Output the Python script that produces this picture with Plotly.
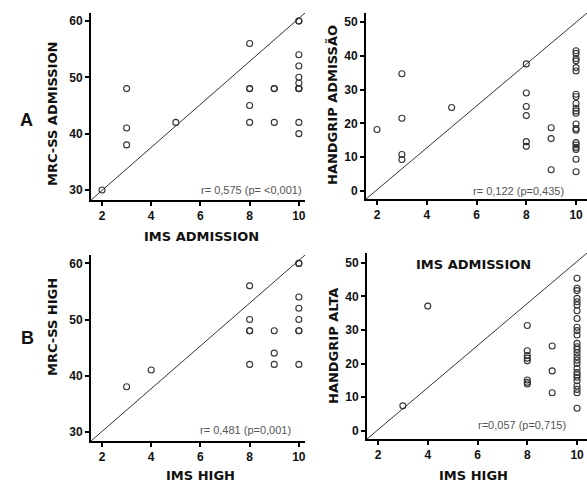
import plotly.graph_objects as go

W, H = 587, 483

# ---- data ----
ims_adm_a = [2, 3, 3, 3, 5, 8, 8, 8, 8, 8, 9, 9, 9,
             10, 10, 10, 10, 10, 10, 10, 10, 10, 10, 10]
mrc_adm = [30, 48, 41, 38, 42, 56, 48, 48, 45, 42, 48, 48, 42,
           60, 60, 54, 52, 50, 49, 48, 48, 48, 42, 40]

ims_adm_b = [2, 3, 3, 3, 3, 5, 8, 8, 8, 8, 8, 8, 9, 9, 9] + [10] * 21
handgrip_adm = [18.2, 34.7, 21.5, 10.8, 9.3, 24.7,
                37.6, 29.0, 25.0, 22.3, 14.6, 13.2,
                18.7, 15.5, 6.3,
                41.5, 40.7, 39.2, 38.5, 36.5, 35.5, 28.6, 27.9, 25.9, 24.5,
                23.7, 23.0, 19.8, 18.5, 18.0, 14.3, 13.6, 12.9, 12.3, 9.4, 5.7]

ims_high_a = [3, 4, 8, 8, 8, 8, 8, 9, 9, 9, 10, 10, 10, 10, 10, 10, 10, 10]
mrc_high = [38, 41, 56, 50, 48, 48, 42, 48, 44, 42, 60, 60, 54, 52, 50, 48, 48, 42]

ims_high_b = [3, 4, 8, 8, 8, 8, 8, 8, 8, 8, 9, 9, 9] + [10] * 27
handgrip_alta = [7.4, 37.1,
                 31.3, 23.8, 22.4, 21.6, 20.8, 15.1, 14.4, 13.9,
                 25.2, 17.8, 11.3,
                 45.4, 42.4, 41.7, 39.4, 38.4, 37.4, 35.7, 33.4, 30.8, 29.8,
                 28.5, 26.0, 25.0, 24.2, 23.2, 22.0, 21.0, 20.0, 18.6, 17.3,
                 16.6, 15.9, 14.9, 13.3, 12.3, 11.3, 6.7]

x_ticks = [2, 4, 6, 8, 10]
y_ticks_mrc = [30, 40, 50, 60]
y_ticks_hg = [0, 10, 20, 30, 40, 50]

stats_text = ["r= 0,575 (p= <0,001)", "r= 0,122 (p=0,435)",
              "r= 0,481 (p=0,001)", "r=0,057 (p=0,715)"]
x_titles = ["IMS ADMISSION", "IMS ADMISSION", "IMS HIGH", "IMS HIGH"]
y_titles = ["MRC-SS ADMISSION", "HANDGRIP ADMISSÃO", "MRC-SS HIGH", "HANDGRIP ALTA"]

# ---- layout geometry (pixels) ----
panels = [
    dict(x=ims_adm_a, y=mrc_adm, px=(91, 305), py=(13, 200),
         xr=[1.553, 10.25], yr=[28.22, 61.42], yt=y_ticks_mrc,
         stat=(304, 190), xt=(201, 237), yti=(52, 114)),
    dict(x=ims_adm_b, y=handgrip_adm, px=(366, 587), py=(13, 199),
         xr=[1.558, 10.44], yr=[-2.37, 52.66], yt=y_ticks_hg,
         stat=(566, 191), xt=(473, 264), yti=(333, 105)),
    dict(x=ims_high_a, y=mrc_high, px=(91, 305), py=(255, 441),
         xr=[1.553, 10.25], yr=[28.34, 61.5], yt=y_ticks_mrc,
         stat=(293, 430), xt=(200, 475), yti=(52, 327)),
    dict(x=ims_high_b, y=handgrip_alta, px=(367, 587), py=(253, 439),
         xr=[1.558, 10.40], yr=[-2.47, 52.9], yt=y_ticks_hg,
         stat=(568, 425), xt=(473, 475), yti=(333, 346)),
]

fig = go.Figure()
annotations = []
bold = dict(family="Liberation Sans, Arial, sans-serif", color="#111")
heavy = dict(family="DejaVu Sans, sans-serif", color="#111")

for i, p in enumerate(panels):
    n = "" if i == 0 else str(i + 1)
    xa, ya = "x" + n, "y" + n
    # diagonal reference line across the plot area
    fig.add_trace(go.Scatter(x=p["xr"], y=p["yr"], mode="lines",
                             line=dict(color="#333", width=1),
                             xaxis=xa, yaxis=ya, showlegend=False,
                             hoverinfo="skip"))
    fig.add_trace(go.Scatter(x=p["x"], y=p["y"], mode="markers",
                             marker=dict(symbol="circle-open", size=6,
                                         color="#333", line=dict(width=1.1)),
                             xaxis=xa, yaxis=ya, showlegend=False,
                             cliponaxis=False))
    common = dict(showline=True, linewidth=2, linecolor="black",
                  ticks="outside", ticklen=4, tickwidth=1.5, tickcolor="black",
                  showgrid=False, zeroline=False,
                  tickfont=dict(family="Liberation Sans, Arial, sans-serif",
                                size=12, color="#111", weight="bold"))
    fig.update_layout(**{
        ("xaxis" + n): dict(domain=[p["px"][0] / W, p["px"][1] / W],
                            range=p["xr"], tickvals=x_ticks, anchor=ya, **common),
        ("yaxis" + n): dict(domain=[1 - p["py"][1] / H, 1 - p["py"][0] / H],
                            range=p["yr"], tickvals=p["yt"], anchor=xa, **common),
    })
    annotations.append(dict(text=stats_text[i], x=p["stat"][0] / W,
                            y=1 - p["stat"][1] / H, xref="paper", yref="paper",
                            xanchor="right", yanchor="middle", showarrow=False,
                            font=dict(family="Liberation Sans, Arial, sans-serif",
                                      size=11, color="#555")))
    annotations.append(dict(text="<b>" + x_titles[i] + "</b>", x=p["xt"][0] / W,
                            y=1 - p["xt"][1] / H, xref="paper", yref="paper",
                            xanchor="center", yanchor="middle", showarrow=False,
                            font=dict(size=13, **heavy)))
    annotations.append(dict(text="<b>" + y_titles[i] + "</b>", x=p["yti"][0] / W,
                            y=1 - p["yti"][1] / H, xref="paper", yref="paper",
                            xanchor="center", yanchor="middle", showarrow=False,
                            textangle=-90, font=dict(size=13, **heavy)))

annotations.append(dict(text="<b>A</b>", x=18 / W, y=1 - 108 / H, xref="paper",
                        yref="paper", showarrow=False, font=dict(size=18, **bold)))
annotations.append(dict(text="<b>B</b>", x=19 / W, y=1 - 350 / H, xref="paper",
                        yref="paper", showarrow=False, font=dict(size=18, **bold)))

fig.update_layout(width=W, height=H, margin=dict(l=0, r=0, t=0, b=0),
                  paper_bgcolor="white", plot_bgcolor="white",
                  annotations=annotations)

fig.write_html("out.html", config={"displayModeBar": False},
               post_script="document.body.style.margin='0';"
                           "document.body.style.overflow='hidden';")
